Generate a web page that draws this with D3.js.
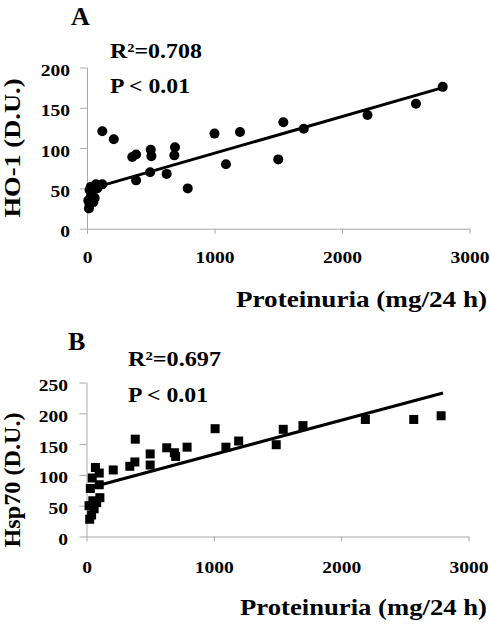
<!DOCTYPE html>
<html>
<head>
<meta charset="utf-8">
<script src="https://cdn.jsdelivr.net/npm/d3@7"></script>
<style>
  html, body { margin: 0; padding: 0; background: #fff; }
  svg { display: block; }
  text { font-family: "Liberation Serif", "Times New Roman", serif; font-weight: bold; fill: #000; }
</style>
</head>
<body>
<svg id="chart" width="490" height="626"></svg>
<script>
// ---------- DATA ----------
const xTicks = [0, 1000, 2000, 3000];
const yTicksA = [0, 50, 100, 150, 200];
const yTicksB = [0, 50, 100, 150, 200, 250];

// Panel A : HO-1 vs proteinuria
const proteinuriaA = [15, 20, 10, 30, 50, 60, 40, 20, 50, 80, 100, 70, 120, 30,
  120, 210, 355, 385, 500, 505, 690, 685, 385, 495, 625, 790,
  1000, 1090, 1200, 1540, 1500, 1700, 2200, 2580, 2790];
const ho1 = [25, 30, 35, 40, 33, 38, 46, 48, 52, 50, 54, 55, 55, 52,
  121, 111, 89, 92, 98, 90, 101, 91, 60, 70, 68, 50,
  118, 80, 120, 132, 86, 124, 141, 155, 176];
const trendAx = [40, 2790];
const trendAy = [50, 175];

// Panel B : Hsp70 vs proteinuria
const proteinuriaB = [25, 40, 60, 50, 30, 45, 100, 70, 100, 105, 210, 340, 380, 383,
  500, 500, 630, 690, 700, 790, 1010, 1095, 1195, 1490, 1545, 1700, 2190, 2570, 2785, 20, 80];
const hsp70 = [28, 35, 45, 58, 78, 95, 84, 112, 103, 63, 108, 114, 121, 158,
  134, 116, 144, 136, 130, 145, 175, 145, 155, 149, 174, 180, 190, 190, 196, 50, 55];
const trendBx = [40, 2800];
const trendBy = [80, 233];

const panels = [
  { letter: "A", r2: "R²=0.708", p: "P < 0.01", ylabel: "HO-1 (D.U.)", xlabel: "Proteinuria (mg/24 h)",
    xs: proteinuriaA, ys: ho1, tx: trendAx, ty: trendAy, yTicks: yTicksA, ymax: 200, marker: "circle",
    x0: 87, x1: 469.5, yb: 228.7, yt: 67.5,
    letterPos: [71, 25], r2Pos: [110, 58, 92], pPos: [110, 92.5, 80],
    ylab: [20, 148, 139], xlab: [236, 307, 251], xTickOff: 34.6, yTickOff: -17 },
  { letter: "B", r2: "R²=0.697", p: "P < 0.01", ylabel: "Hsp70 (D.U.)", xlabel: "Proteinuria (mg/24 h)",
    xs: proteinuriaB, ys: hsp70, tx: trendBx, ty: trendBy, yTicks: yTicksB, ymax: 250, marker: "square",
    x0: 86.5, x1: 468.5, yb: 536.5, yt: 382.5,
    letterPos: [68, 350], r2Pos: [128, 366, 93], pPos: [128, 402, 80],
    ylab: [20, 480, 135], xlab: [240, 615, 247], xTickOff: 36.7, yTickOff: -18.5 }
];

const svg = d3.select("#chart");
const AXIS_COLOR = "#a8a8a8";
const TICK_STRETCH = 1.22;
const FONT = '"Liberation Serif", "Times New Roman", serif';

function stretch(sel, factor) {
  sel.each(function () {
    const w = this.getComputedTextLength();
    d3.select(this).attr("textLength", w * factor).attr("lengthAdjust", "spacingAndGlyphs");
  });
}

panels.forEach(cfg => {
  const g = svg.append("g");
  const x = d3.scaleLinear().domain([0, 3000]).range([cfg.x0, cfg.x1]);
  const y = d3.scaleLinear().domain([0, cfg.ymax]).range([cfg.yb, cfg.yt]);

  // x axis
  const gx = g.append("g").attr("transform", `translate(0,${cfg.yb})`)
    .call(d3.axisBottom(x).tickValues(xTicks).tickSize(5).tickSizeOuter(0).tickFormat(d3.format("d")));
  gx.attr("font-family", null).attr("font-size", null);
  gx.select(".domain").attr("stroke", AXIS_COLOR);
  gx.selectAll(".tick line").attr("stroke", AXIS_COLOR);
  gx.selectAll(".tick text").attr("y", cfg.xTickOff).attr("dy", 0)
    .style("font-size", "16px").style("font-family", FONT).style("font-weight", "bold")
    .call(stretch, TICK_STRETCH);

  // y axis
  const gy = g.append("g").attr("transform", `translate(${cfg.x0},0)`)
    .call(d3.axisLeft(y).tickValues(cfg.yTicks).tickSize(7).tickSizeOuter(0).tickFormat(d3.format("d")));
  gy.attr("font-family", null).attr("font-size", null);
  gy.select(".domain").attr("stroke", AXIS_COLOR);
  gy.selectAll(".tick line").attr("stroke", AXIS_COLOR);
  gy.selectAll(".tick text").attr("x", cfg.yTickOff).attr("dy", 8)
    .style("font-size", "16px").style("font-family", FONT).style("font-weight", "bold")
    .call(stretch, TICK_STRETCH);

  // trend line
  const line = d3.line().x(d => x(d[0])).y(d => y(d[1]));
  g.append("path").datum(d3.zip(cfg.tx, cfg.ty))
    .attr("d", line).attr("fill", "none").attr("stroke", "#000").attr("stroke-width", 3);

  // markers
  const pts = d3.zip(cfg.xs, cfg.ys);
  if (cfg.marker === "circle") {
    g.selectAll("circle.pt").data(pts).join("circle").attr("class", "pt")
      .attr("cx", d => x(d[0])).attr("cy", d => y(d[1])).attr("r", 5).attr("fill", "#000");
  } else {
    const s = 9;
    g.selectAll("rect.pt").data(pts).join("rect").attr("class", "pt")
      .attr("x", d => x(d[0]) - s / 2).attr("y", d => y(d[1]) - s / 2)
      .attr("width", s).attr("height", s).attr("fill", "#000");
  }

  // texts
  g.append("text").attr("x", cfg.letterPos[0]).attr("y", cfg.letterPos[1])
    .style("font-size", "26px").text(cfg.letter);
  g.append("text").attr("x", cfg.r2Pos[0]).attr("y", cfg.r2Pos[1])
    .style("font-size", "22px").attr("textLength", cfg.r2Pos[2]).attr("lengthAdjust", "spacingAndGlyphs")
    .text(cfg.r2);
  g.append("text").attr("x", cfg.pPos[0]).attr("y", cfg.pPos[1])
    .style("font-size", "22px").attr("textLength", cfg.pPos[2]).attr("lengthAdjust", "spacingAndGlyphs")
    .text(cfg.p);
  g.append("text").attr("transform", `translate(${cfg.ylab[0]},${cfg.ylab[1]}) rotate(-90)`)
    .attr("text-anchor", "middle").style("font-size", "23px")
    .attr("textLength", cfg.ylab[2]).attr("lengthAdjust", "spacingAndGlyphs")
    .text(cfg.ylabel);
  g.append("text").attr("x", cfg.xlab[0]).attr("y", cfg.xlab[1])
    .style("font-size", "24px").attr("textLength", cfg.xlab[2]).attr("lengthAdjust", "spacingAndGlyphs")
    .text(cfg.xlabel);
});
</script>
</body>
</html>
